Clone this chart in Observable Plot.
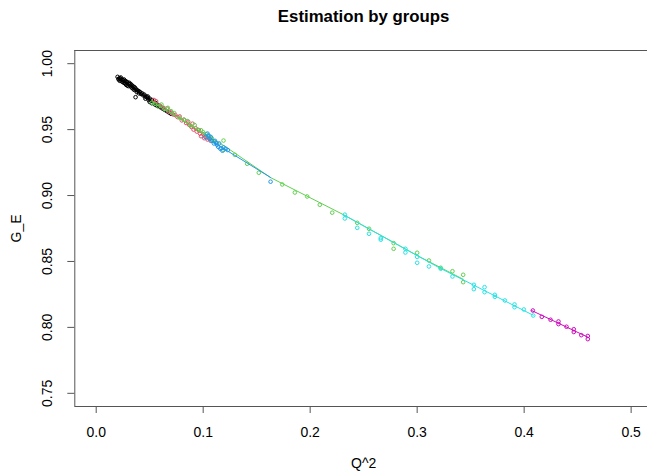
<!DOCTYPE html>
<html>
<head>
<meta charset="utf-8">
<script src="https://cdn.jsdelivr.net/npm/d3@7"></script>
<script src="https://cdn.jsdelivr.net/npm/@observablehq/plot@0.6"></script>
<style>
  html, body { margin: 0; padding: 0; background: #fff; }
  svg { display: block; }
</style>
</head>
<body>
<div id="chart"></div>
<script>
// ---- data ----
const titleText = "Estimation by groups";
const xLabel = "Q^2";
const yLabel = "G_E";
const xTicks = [0.0, 0.1, 0.2, 0.3, 0.4, 0.5];
const yTicks = [0.75, 0.80, 0.85, 0.90, 0.95, 1.00];

const groupNames = ["black", "red", "green", "blue", "cyan", "magenta"];
const groupColors = ["#000000", "#DF536B", "#61D04F", "#2297E6", "#28E2E5", "#CD0BBC"];

// points per group: Q^2 and G_E
const blackQ2 = [0.020,0.021,0.021,0.022,0.022,0.023,0.023,0.024,0.024,0.025,0.025,0.026,0.026,0.027,0.027,0.028,0.028,0.029,0.029,0.030,0.030,0.031,0.031,0.032,0.032,0.033,0.033,0.034,0.034,0.035,0.035,0.036,0.036,0.037,0.0368,0.038,0.038,0.039,0.040,0.040,0.041,0.042,0.043,0.044,0.045,0.046,0.046,0.047,0.048,0.0482,0.049,0.050,0.050,0.052,0.052,0.054,0.055,0.056,0.057,0.058,0.060,0.062,0.064,0.066,0.068,0.070];
const blackGE = [0.990,0.988,0.9885,0.989,0.987,0.9895,0.988,0.9865,0.988,0.9875,0.986,0.988,0.9855,0.987,0.985,0.9865,0.984,0.986,0.9835,0.985,0.983,0.9845,0.9855,0.983,0.9845,0.984,0.982,0.983,0.9815,0.9825,0.9805,0.982,0.980,0.981,0.9746,0.980,0.9785,0.9795,0.979,0.9775,0.9785,0.977,0.9775,0.976,0.9765,0.975,0.9735,0.975,0.974,0.9751,0.9725,0.9735,0.971,0.9725,0.970,0.971,0.969,0.970,0.968,0.9685,0.967,0.966,0.965,0.964,0.963,0.962];

const redQ2 = [0.054,0.056,0.060,0.063,0.066,0.068,0.070,0.072,0.074,0.076,0.078,0.080,0.082,0.084,0.086,0.087,0.089,0.090,0.091,0.093,0.094,0.096,0.097,0.098,0.100,0.101,0.103,0.104,0.106,0.107];
const redGE = [0.9725,0.9715,0.968,0.9665,0.966,0.9635,0.963,0.9615,0.961,0.9595,0.960,0.957,0.9575,0.955,0.956,0.9535,0.952,0.9545,0.950,0.951,0.9485,0.9495,0.947,0.945,0.9465,0.9435,0.944,0.9425,0.943,0.9415];

const greenQ2 = [0.052,0.055,0.058,0.061,0.064,0.067,0.070,0.073,0.078,0.082,0.085,0.088,0.092,0.095,0.098,0.100,0.103,0.105,0.108,0.110,0.119,0.119,0.1296,0.1411,0.152,0.1739,0.1857,0.1972,0.209,0.2206,0.244,0.255,0.278,0.278,0.300,0.311,0.322,0.333,0.343,0.343];
const greenGE = [0.9705,0.9695,0.9675,0.969,0.9655,0.9665,0.964,0.9625,0.959,0.9575,0.9565,0.953,0.9535,0.950,0.9495,0.948,0.9465,0.945,0.9435,0.941,0.9417,0.9345,0.9309,0.9241,0.9173,0.9084,0.9023,0.8993,0.893,0.887,0.8793,0.8748,0.8639,0.8596,0.8566,0.8507,0.8452,0.8426,0.8399,0.8343];

const blueQ2 = [0.102,0.104,0.105,0.106,0.107,0.108,0.110,0.111,0.112,0.113,0.114,0.115,0.116,0.117,0.118,0.119,0.121,0.123,0.163];
const blueGE = [0.9445,0.947,0.9455,0.943,0.9445,0.9415,0.9395,0.9415,0.940,0.9385,0.937,0.9395,0.9355,0.936,0.934,0.9365,0.9355,0.9345,0.9105];

const cyanQ2 = [0.2324,0.2324,0.244,0.255,0.266,0.266,0.289,0.289,0.300,0.300,0.311,0.322,0.333,0.353,0.353,0.363,0.363,0.3726,0.3726,0.382,0.391,0.391,0.3997,0.4085];
const cyanGE = [0.8855,0.8826,0.8755,0.871,0.8677,0.8665,0.8596,0.8568,0.8535,0.849,0.8462,0.8445,0.8386,0.8323,0.829,0.8305,0.8267,0.8247,0.8232,0.8204,0.8174,0.8153,0.8136,0.809];

const magentaQ2 = [0.4081,0.4165,0.4247,0.4321,0.4321,0.4396,0.4464,0.4464,0.4534,0.4595,0.4595];
const magentaGE = [0.8128,0.8080,0.8058,0.8045,0.8025,0.8005,0.7986,0.7965,0.7941,0.7935,0.7911];

// fitted line per group
const blackFitQ2 = [0.020, 0.068];
const blackFitGE = [0.9893, 0.9630];
const redFitQ2 = [0.054, 0.107];
const redFitGE = [0.9718, 0.9425];
const greenFitQ2 = [0.052, 0.120, 0.163, 0.231, 0.300, 0.343];
const greenFitGE = [0.9712, 0.9375, 0.9136, 0.8855, 0.8545, 0.8365];
const blueFitQ2 = [0.104, 0.163];
const blueFitGE = [0.9432, 0.9137];
const cyanFitQ2 = [0.231, 0.320, 0.4085];
const cyanFitGE = [0.8855, 0.8455, 0.8092];
const magentaFitQ2 = [0.407, 0.4595];
const magentaFitGE = [0.8128, 0.7926];

// ---- build tables ----
const zip = (xs, ys) => xs.map((x, i) => ({q2: x, ge: ys[i]}));
const pointSets = [zip(blackQ2, blackGE), zip(redQ2, redGE), zip(greenQ2, greenGE), zip(blueQ2, blueGE), zip(cyanQ2, cyanGE), zip(magentaQ2, magentaGE)];
const fitSets = [zip(blackFitQ2, blackFitGE), zip(redFitQ2, redFitGE), zip(greenFitQ2, greenFitGE), zip(blueFitQ2, blueFitGE), zip(cyanFitQ2, cyanFitGE), zip(magentaFitQ2, magentaFitGE)];

const groupMarks = [];
groupNames.forEach((g, i) => {
  groupMarks.push(Plot.dot(pointSets[i], {x: "q2", y: "ge", r: 1.8, stroke: groupColors[i], strokeWidth: 1, fill: "none"}));
  groupMarks.push(Plot.line(fitSets[i], {x: "q2", y: "ge", stroke: groupColors[i], strokeWidth: 1}));
});

const frameColor = "#555";
const chart = Plot.plot({
  width: 647,
  height: 473,
  marginLeft: 74.3,
  marginRight: 0,
  marginTop: 50,
  marginBottom: 67,
  x: {domain: [-0.02, 0.5153], label: null},
  y: {domain: [0.74, 1.01], label: null},
  style: {fontFamily: "'Liberation Sans', Arial, Helvetica, sans-serif", fontSize: "14px", background: "#fff", color: "#000"},
  marks: [
    ...groupMarks,
    Plot.ruleY([0.74], {stroke: frameColor, strokeWidth: 1}),
    Plot.ruleY([1.01], {stroke: frameColor, strokeWidth: 1}),
    Plot.ruleX([-0.02], {stroke: frameColor, strokeWidth: 1}),
    Plot.axisX(xTicks, {tickSize: 7, tickPadding: 14, tickFormat: d => d.toFixed(1), fontSize: 14, stroke: frameColor, label: null}),
    Plot.axisY(yTicks, {tickSize: 7, tickRotate: -90, tickPadding: 16, tickFormat: d => d.toFixed(2), fontSize: 14, stroke: frameColor, label: null}),
    Plot.text([titleText], {text: d => d, frameAnchor: "top", dx: 2.5, dy: -34, fontSize: 16.8, fontWeight: "bold", lineAnchor: "middle"}),
    Plot.text([xLabel], {text: d => d, frameAnchor: "bottom", dx: 2.5, dy: 57, fontSize: 14, lineAnchor: "middle"}),
    Plot.text([yLabel], {text: d => d, frameAnchor: "left", dx: -58, rotate: -90, fontSize: 14, lineAnchor: "middle", textAnchor: "middle"})
  ]
});
document.getElementById("chart").appendChild(chart);
</script>
</body>
</html>
